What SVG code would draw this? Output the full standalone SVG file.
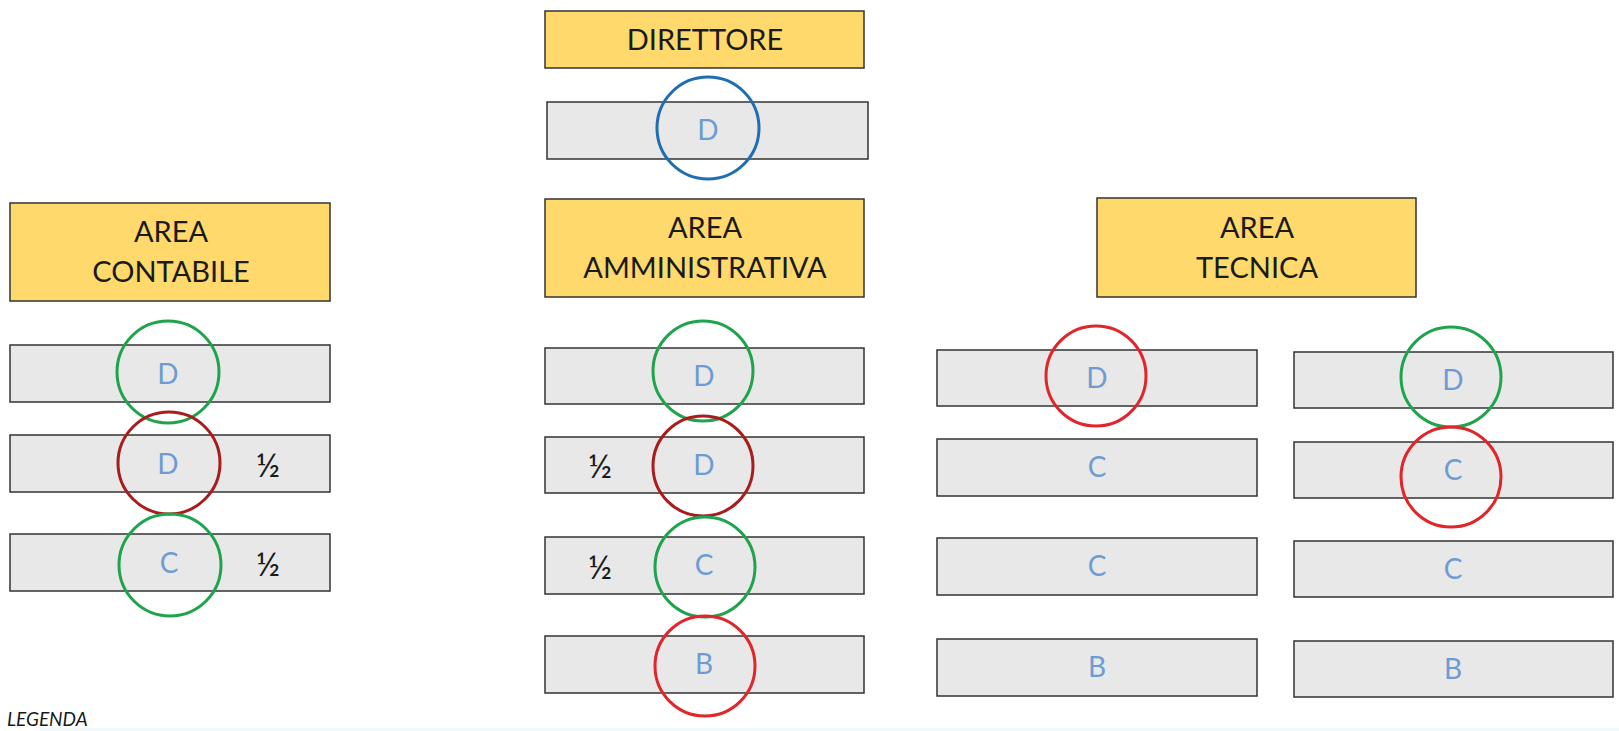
<svg xmlns="http://www.w3.org/2000/svg" width="1619" height="731" viewBox="0 0 1619 731">
<style>
.hdr{fill:#FFD96C;stroke:#333;stroke-width:1.5}
.row{fill:#E8E8E8;stroke:#333;stroke-width:1.5}
.ht{font-family:Lato,"Liberation Sans",sans-serif;font-size:29px;fill:#1a1a1a;text-anchor:middle}
.lt{font-family:Lato,"Liberation Sans",sans-serif;font-size:28px;fill:#6E9CD2;text-anchor:middle}
.half{font-family:Lato,"Liberation Sans",sans-serif;font-size:33px;fill:#1a1a1a;text-anchor:middle}
.c{fill:none;stroke-width:3}
.green{stroke:#1FA34D}
.dred{stroke:#A81C1E}
.red{stroke:#E0262A}
.blue{stroke:#1F6DB2}
</style>
<rect x="0" y="0" width="1619" height="731" fill="#fff"/>
<rect x="40" y="728" width="1579" height="3" fill="#F0F9FC"/>
<g id="direttore">
<rect class="hdr" x="545" y="11" width="319" height="57"/>
<text class="ht" x="705" y="50">DIRETTORE</text>
</g>
<g id="direttore-row">
<rect class="row" x="547" y="102" width="321" height="57"/>
<text class="lt" x="708" y="140">D</text>
<circle class="c blue" cx="708" cy="128" r="51"/>
</g>
<g id="area-contabile">
<rect class="hdr" x="10" y="203" width="320" height="98"/>
<text class="ht" x="171" y="242">AREA</text>
<text class="ht" x="171" y="282">CONTABILE</text>
</g>
<g id="contabile-row1">
<rect class="row" x="10" y="345" width="320" height="57"/>
<text class="lt" x="168" y="384">D</text>
<circle class="c green" cx="168" cy="372" r="51"/>
</g>
<g id="contabile-row2">
<rect class="row" x="10" y="435" width="320" height="57"/>
<text class="lt" x="168" y="474">D</text>
<text class="half" x="268" y="477">½</text>
<circle class="c dred" cx="169" cy="463" r="51"/>
</g>
<g id="contabile-row3">
<rect class="row" x="10" y="534" width="320" height="57"/>
<text class="lt" x="169" y="573">C</text>
<text class="half" x="268" y="576">½</text>
<circle class="c green" cx="170" cy="565" r="51"/>
</g>
<g id="area-amministrativa">
<rect class="hdr" x="545" y="199" width="319" height="98"/>
<text class="ht" x="705" y="238">AREA</text>
<text class="ht" x="705" y="278">AMMINISTRATIVA</text>
</g>
<g id="amm-row1">
<rect class="row" x="545" y="348" width="319" height="56"/>
<text class="lt" x="704" y="386">D</text>
<circle class="c green" cx="703" cy="371" r="50"/>
</g>
<g id="amm-row2">
<rect class="row" x="545" y="437" width="319" height="56"/>
<text class="lt" x="704" y="475">D</text>
<text class="half" x="600" y="478">½</text>
<circle class="c dred" cx="703" cy="466" r="50"/>
</g>
<g id="amm-row3">
<rect class="row" x="545" y="537" width="319" height="57"/>
<text class="lt" x="704" y="575">C</text>
<text class="half" x="600" y="579">½</text>
<circle class="c green" cx="705" cy="567" r="50"/>
</g>
<g id="amm-row4">
<rect class="row" x="545" y="636" width="319" height="57"/>
<text class="lt" x="704" y="674">B</text>
<circle class="c red" cx="705" cy="666" r="50"/>
</g>
<g id="area-tecnica">
<rect class="hdr" x="1097" y="198" width="319" height="99"/>
<text class="ht" x="1257" y="238">AREA</text>
<text class="ht" x="1257" y="278">TECNICA</text>
</g>
<g id="tec-a-row1">
<rect class="row" x="937" y="350" width="320" height="56"/>
<text class="lt" x="1097" y="388">D</text>
<circle class="c red" cx="1096" cy="376" r="50"/>
</g>
<g id="tec-a-row2">
<rect class="row" x="937" y="439" width="320" height="57"/>
<text class="lt" x="1097" y="477">C</text>
</g>
<g id="tec-a-row3">
<rect class="row" x="937" y="538" width="320" height="57"/>
<text class="lt" x="1097" y="576">C</text>
</g>
<g id="tec-a-row4">
<rect class="row" x="937" y="639" width="320" height="57"/>
<text class="lt" x="1097" y="677">B</text>
</g>
<g id="tec-b-row1">
<rect class="row" x="1294" y="352" width="319" height="56"/>
<text class="lt" x="1453" y="390">D</text>
<circle class="c green" cx="1451" cy="377" r="50"/>
</g>
<g id="tec-b-row2">
<rect class="row" x="1294" y="442" width="319" height="56"/>
<text class="lt" x="1453" y="480">C</text>
<circle class="c red" cx="1451" cy="477" r="50"/>
</g>
<g id="tec-b-row3">
<rect class="row" x="1294" y="541" width="319" height="56"/>
<text class="lt" x="1453" y="579">C</text>
</g>
<g id="tec-b-row4">
<rect class="row" x="1294" y="641" width="319" height="56"/>
<text class="lt" x="1453" y="679">B</text>
</g>
<g id="legenda">
<text x="7" y="726" font-family="Lato,'Liberation Sans',sans-serif" font-size="19" font-style="italic" fill="#1a1a1a">LEGENDA</text>
</g>
<g id="connectors"/>
</svg>
